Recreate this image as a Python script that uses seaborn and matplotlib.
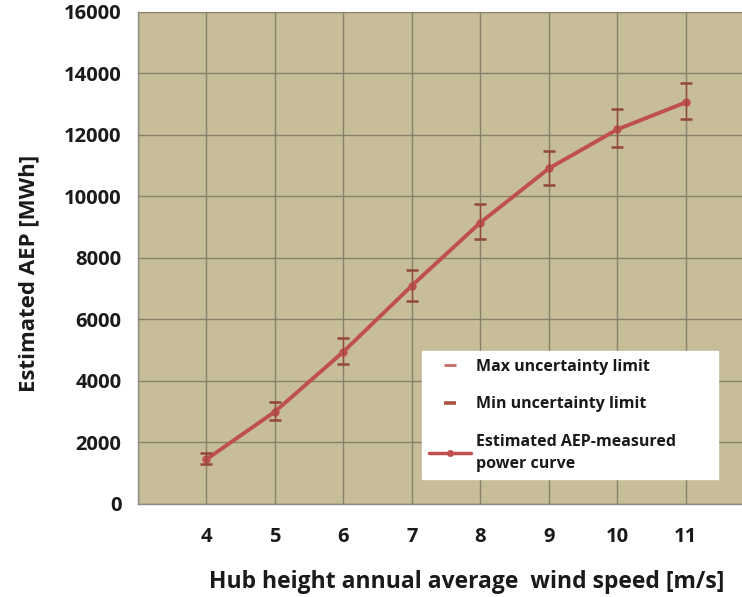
import matplotlib
matplotlib.use("Agg")
import matplotlib.pyplot as plt
from matplotlib.lines import Line2D
import seaborn as sns
import pandas as pd
import numpy as np

wind_speed = [4, 5, 6, 7, 8, 9, 10, 11]
aep = [1450, 3000, 4950, 7100, 9150, 10910, 12180, 13060]
aep_max = [1650, 3320, 5400, 7620, 9740, 11470, 12830, 13680]
aep_min = [1300, 2740, 4560, 6610, 8600, 10360, 11600, 12510]
y_ticks = [0, 2000, 4000, 6000, 8000, 10000, 12000, 14000, 16000]

sns.set_style("white")
plt.rcParams['font.family'] = ['Open Sans', 'DejaVu Sans']

df = pd.DataFrame({"ws": wind_speed, "aep": aep, "max": aep_max, "min": aep_min})

fig = plt.figure(figsize=(7.42, 5.97), dpi=100)
ax = fig.add_axes([0.186, 0.156, 0.814, 0.824])
ax.set_facecolor("#C7BD98")

line_col = "#C0504D"
cap_col = "#94483A"

sns.lineplot(data=df, x="ws", y="aep", ax=ax, color=line_col, lw=2.8,
             marker="o", markersize=6, markeredgewidth=0, zorder=3, legend=False)

ax.errorbar(df["ws"], df["aep"],
            yerr=[np.array(aep) - np.array(aep_min), np.array(aep_max) - np.array(aep)],
            fmt="none", ecolor=cap_col, elinewidth=1.0, capsize=4.5, capthick=1.8, zorder=4)

ax.set_xlim(3, 11.82)
ax.set_ylim(0, 16000)
ax.set_xticks([3] + wind_speed)
ax.set_xticklabels([""] + [str(w) for w in wind_speed])
ax.set_yticks(y_ticks)
ax.set_yticklabels([str(t) for t in y_ticks])
ax.grid(True, color="#878169", lw=1.0)
ax.set_axisbelow(True)

for s in ["top", "right"]:
    ax.spines[s].set_visible(False)
for s in ["left", "bottom"]:
    ax.spines[s].set_color("#8C8C8C")
    ax.spines[s].set_linewidth(1.0)

ax.tick_params(axis="x", direction="out", length=6, color="#8C8C8C", pad=10.5,
               labelsize=14.5, labelcolor="#1A1A1A")
ax.tick_params(axis="y", direction="out", length=6, color="#8C8C8C", pad=6,
               labelsize=14.5, labelcolor="#1A1A1A")
for lab in ax.get_xticklabels() + ax.get_yticklabels():
    lab.set_fontweight("bold")

ax.set_xlabel("Hub height annual average  wind speed [m/s]", fontsize=16.5,
              fontweight="bold", color="#1A1A1A")
ax.xaxis.set_label_coords(0.545, -0.135)
ax.set_ylabel("Estimated AEP [MWh]", fontsize=16, fontweight="bold",
              color="#1A1A1A")
ax.yaxis.set_label_coords(-0.163, 0.468)

handles = [
    Line2D([], [], color="#C86A60", marker="_", markersize=9, markeredgewidth=2, lw=0),
    Line2D([], [], color="#A8543F", marker="_", markersize=9, markeredgewidth=2.6, lw=0),
    Line2D([], [], color=line_col, marker="o", markersize=5, lw=2.5, markeredgewidth=0),
]
labels = ["Max uncertainty limit", "Min uncertainty limit",
          "Estimated AEP-measured\npower curve"]
leg = ax.legend(handles, labels, loc="upper left",
                bbox_to_anchor=(0.470, 0.048, 0.490, 0.262), mode="expand",
                frameon=True, fancybox=False, framealpha=1, edgecolor="white",
                facecolor="white", labelspacing=1.35, handlelength=2.6,
                handletextpad=0.35, borderpad=0.45, borderaxespad=0,
                prop={"weight": "bold", "size": 11.5})
for t in leg.get_texts():
    t.set_color("#1A1A1A")
    t.set_linespacing(1.55)

fig.savefig("out.png", dpi=100)
